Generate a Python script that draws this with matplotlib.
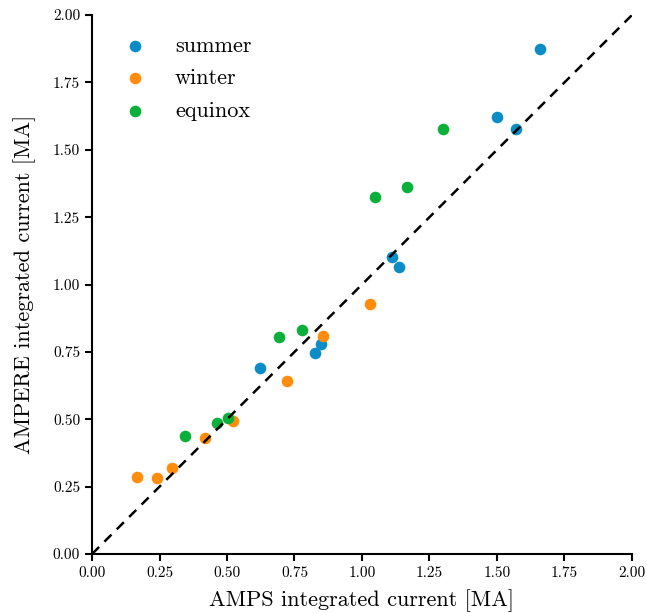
import matplotlib as mpl
mpl.use('Agg')
import matplotlib.pyplot as plt
import numpy as np

mpl.rcParams['font.family'] = 'serif'
mpl.rcParams['font.serif'] = ['cmr10', 'DejaVu Serif']
mpl.rcParams['mathtext.fontset'] = 'cm'
mpl.rcParams['axes.formatter.use_mathtext'] = True

# AMPS (x) vs AMPERE (y) integrated current, MA
summer_amps = [1.659, 1.500, 1.570, 1.111, 1.137, 0.622, 0.826, 0.848]
summer_ampere = [1.874, 1.621, 1.577, 1.102, 1.065, 0.690, 0.746, 0.779]

winter_amps = [0.167, 0.241, 0.296, 0.419, 0.522, 0.722, 0.856, 1.030]
winter_ampere = [0.286, 0.282, 0.319, 0.430, 0.494, 0.642, 0.809, 0.928]

equinox_amps = [0.344, 0.463, 0.504, 0.693, 0.778, 1.048, 1.167, 1.300]
equinox_ampere = [0.438, 0.486, 0.505, 0.805, 0.831, 1.325, 1.362, 1.577]

fig = plt.figure(figsize=(6.47, 6.13), dpi=100)
ax = fig.add_axes([0.1422, 0.0962, 0.8346, 0.8793])

ax.scatter(summer_amps, summer_ampere, s=70, color='#0a8dc6', lw=0, label='summer', zorder=3)
ax.scatter(winter_amps, winter_ampere, s=70, color='#ff8c0a', lw=0, label='winter', zorder=3)
ax.scatter(equinox_amps, equinox_ampere, s=70, color='#0ab03a', lw=0, label='equinox', zorder=3)

ax.plot([0, 2], [0, 2], 'k--', lw=1.8, dashes=(4, 3), zorder=4)

ax.set_xlim(0, 2)
ax.set_ylim(0, 2)
ticks = np.arange(0, 2.01, 0.25)
ax.set_xticks(ticks)
ax.set_yticks(ticks)
ax.set_xticklabels(['%.2f' % t for t in ticks])
ax.set_yticklabels(['%.2f' % t for t in ticks])
ax.tick_params(labelsize=11, width=1.5, length=5)

for s in ['top', 'right']:
    ax.spines[s].set_visible(False)
for s in ['left', 'bottom']:
    ax.spines[s].set_linewidth(1.5)

ax.set_xlabel('AMPS integrated current [MA]', fontsize=16, labelpad=7)
ax.set_ylabel('AMPERE integrated current [MA]', fontsize=16, labelpad=12)

ax.legend(loc='upper left', frameon=False, fontsize=16, handletextpad=0.78,
          labelspacing=0.58, borderaxespad=0.55, bbox_to_anchor=(0.0, 1.0))

plt.savefig('out.png', dpi=100)
plt.close()
